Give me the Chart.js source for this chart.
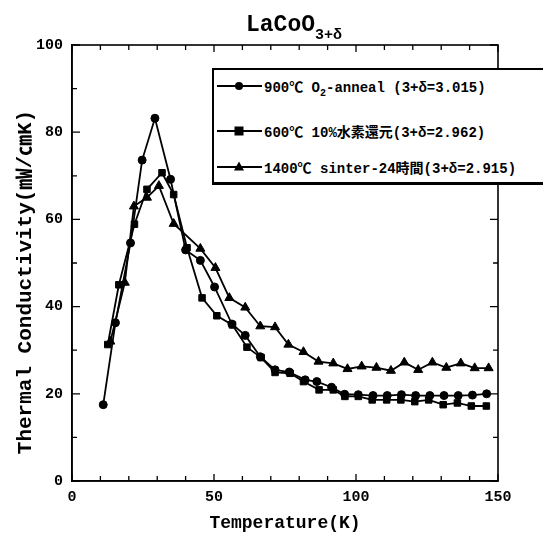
<!DOCTYPE html>
<html><head><meta charset="utf-8">
<script src="https://cdn.jsdelivr.net/npm/chart.js@4/dist/chart.umd.min.js"></script>
<style>
html,body{margin:0;padding:0;background:#fff;}
#wrap{position:relative;width:543px;height:540px;overflow:hidden;background:#fff;}
#c{position:absolute;left:0;top:0;}
#legend{position:absolute;left:212px;top:68px;width:340px;height:117px;border:2px solid #000;border-bottom-width:3px;background:#fff;box-sizing:border-box;
 font-family:'Liberation Mono','Noto Sans CJK JP',monospace;font-weight:bold;font-size:14px;color:#000;}
.item{position:absolute;left:2px;height:20px;display:flex;align-items:center;white-space:nowrap;}
.item svg{margin-right:2px;}
sub{font-size:10px;vertical-align:-4px;line-height:0;}
</style></head>
<body>
<div id="wrap">
<canvas id="c" width="543" height="540"></canvas>
<div id="legend"></div>
</div>
<script>
// ---- data ----
const tempCircle = [11,15.3,20.6,24.7,29.2,34.7,40,45.2,50.2,56.3,61,66.3,71.5,76.5,82.1,86.2,91.4,96,100.8,106,111,116,121,126,131,136,141,146];
const kCircle    = [17.5,36.3,54.6,73.6,83.2,69.2,53,50.6,44.5,36,33.4,28.5,25.5,25,23.2,22.8,21.5,19.9,19.8,19.6,19.6,19.8,19.6,19.6,19.6,19.6,19.7,20];
const tempSquare = [12.6,16.5,22,26.4,31.7,35.8,40.5,45.8,51,56.5,61.6,66.6,71.5,76.8,81.5,87,92,96.1,100.8,105.7,110.8,115.8,120.7,125.6,130.7,135.7,140.6,145.9];
const kSquare    = [31.3,45,58.9,66.9,70.7,65.7,53.5,42,37.9,35.8,30.7,28.3,24.9,24.7,22.8,20.9,20.9,19.4,19.4,18.6,18.6,18.6,18.2,18.6,17.5,17.9,17.2,17.2];
const tempTri    = [13.5,18.6,21.8,26.4,30.6,35.8,45.2,50.5,55.4,61,66.3,71.5,76.2,81.5,86.8,92,97,102,107.2,112.3,117,121.9,126.9,131.8,136.9,141.8,146.7];
const kTri       = [32,45.5,63,65,67.7,59,53.3,48.9,42,39.8,35.5,35.3,31.3,29.6,27.4,27,25.7,26.3,26,25.3,27.2,25.5,27.2,26,27,25.9,25.9];
const seriesNames = ['900℃ O<sub>2</sub>-anneal (3+δ=3.015)', '600℃ 10%水素還元(3+δ=2.962)', '1400℃ sinter-24時間(3+δ=2.915)'];
const xTickValues = [0,50,100,150];
const yTickValues = [0,20,40,60,80,100];
const xMinorTicks = [0,10,20,30,40,50,60,70,80,90,100,110,120,130,140,150];
const yMinorTicks = [0,10,20,30,40,50,60,70,80,90,100];
const titleMain = 'LaCoO';
const titleSub = '3+δ';
const xTitle = 'Temperature(K)';
const yTitle = 'Thermal Conductivity(㎽/㎝K)';

const FONT = "'Liberation Mono','Noto Sans CJK JP',monospace";
const toPts = (xs, ys) => xs.map((v,i)=>({x:v, y:ys[i]}));
const styles = [
  {pointStyle:'circle', pointRadius:4},
  {pointStyle:'rect', pointRadius:4.6},
  {pointStyle:'triangle', pointRadius:5.2}
];
const series = [toPts(tempCircle,kCircle), toPts(tempSquare,kSquare), toPts(tempTri,kTri)];

const frameTicks = {
  id:'frameTicks',
  afterDraw(chart){
    const {ctx, chartArea:a, scales:{x,y}} = chart;
    ctx.save();
    ctx.strokeStyle='#000';
    ctx.lineWidth=1.6;
    ctx.strokeRect(a.left,a.top,a.right-a.left,a.bottom-a.top);
    ctx.lineWidth=1.3;
    ctx.beginPath();
    xMinorTicks.forEach(v=>{
      const px=x.getPixelForValue(v); const L = (v%50===0)?7:5;
      ctx.moveTo(px,a.bottom); ctx.lineTo(px,a.bottom-L);
      ctx.moveTo(px,a.top); ctx.lineTo(px,a.top+L);
    });
    yMinorTicks.forEach(v=>{
      const py=y.getPixelForValue(v); const L=(v%20===0)?8:5;
      ctx.moveTo(a.left,py); ctx.lineTo(a.left+L,py);
      ctx.moveTo(a.right,py); ctx.lineTo(a.right-L,py);
    });
    ctx.stroke();
    ctx.fillStyle='#000';
    // y-axis title
    ctx.save();
    ctx.translate(26, (a.top+a.bottom)/2 + 19);
    ctx.rotate(-Math.PI/2);
    ctx.font = "bold 21px " + FONT;
    ctx.textAlign='center'; ctx.textBaseline='middle';
    ctx.fillText(yTitle, 0, 0);
    ctx.restore();
    // title with subscript
    ctx.textBaseline='alphabetic';
    ctx.textAlign='left';
    ctx.font = "bold 23px " + FONT;
    const w1 = ctx.measureText(titleMain).width;
    ctx.font = "bold 15px " + FONT;
    const w2 = ctx.measureText(titleSub).width;
    const cx = (a.left+a.right)/2 + 9;
    const sx = cx - (w1+w2)/2;
    ctx.font = "bold 23px " + FONT;
    ctx.fillText(titleMain, sx, 31);
    ctx.font = "bold 15px " + FONT;
    ctx.fillText(titleSub, sx+w1, 39);
    ctx.restore();
  }
};

new Chart(document.getElementById('c'), {
  type:'scatter',
  data:{datasets: series.map((d,i)=>({
    label: seriesNames[i], data:d, showLine:true,
    borderColor:'#000', backgroundColor:'#000', borderWidth:1.8,
    pointStyle:styles[i].pointStyle, pointRadius:styles[i].pointRadius,
    pointBorderWidth:1, tension:0, clip:false
  }))},
  options:{
    responsive:false, animation:false, devicePixelRatio:1,
    layout:{padding:{left:0,right:45,top:45,bottom:0}},
    plugins:{legend:{display:false}, tooltip:{enabled:false}},
    scales:{
      x:{type:'linear', min:0, max:150,
        afterBuildTicks(s){ s.ticks = xTickValues.map(v=>({value:v})); },
        afterFit(s){ s.height = 59; },
        grid:{display:false, drawTicks:false},
        border:{display:true, color:'#000', width:1.6},
        ticks:{color:'#000', padding:7, font:{family:FONT, size:15, weight:'bold'}, maxRotation:0},
        title:{display:true, text:xTitle, color:'#000', font:{family:FONT, size:18, weight:'bold'}, padding:{top:0,bottom:6}}
      },
      y:{type:'linear', min:0, max:100,
        afterBuildTicks(s){ s.ticks = yTickValues.map(v=>({value:v})); },
        afterFit(s){ s.width = 72; },
        grid:{display:false, drawTicks:false},
        border:{display:true, color:'#000', width:1.6},
        ticks:{color:'#000', padding:9, font:{family:FONT, size:15, weight:'bold'}},
        title:{display:false}
      }
    }
  },
  plugins:[frameTicks]
});

// legend (HTML text, markers drawn as small svg)
const markerSvg = [
  '<circle cx="23" cy="7" r="4" fill="#000"/>',
  '<rect x="18.5" y="2.5" width="9" height="9" fill="#000"/>',
  '<polygon points="23,1.5 28,10.5 18,10.5" fill="#000"/>'
];
const legendTops = [6, 51, 87];
const legend = document.getElementById('legend');
seriesNames.forEach((n,i)=>{
  const d = document.createElement('div');
  d.className='item'; d.style.top = legendTops[i]+'px';
  d.innerHTML = '<svg width="46" height="14"><line x1="1" y1="7" x2="46" y2="7" stroke="#000" stroke-width="1.8"/>'+markerSvg[i]+'</svg><span>'+n+'</span>';
  legend.appendChild(d);
});
</script>
</body></html>
